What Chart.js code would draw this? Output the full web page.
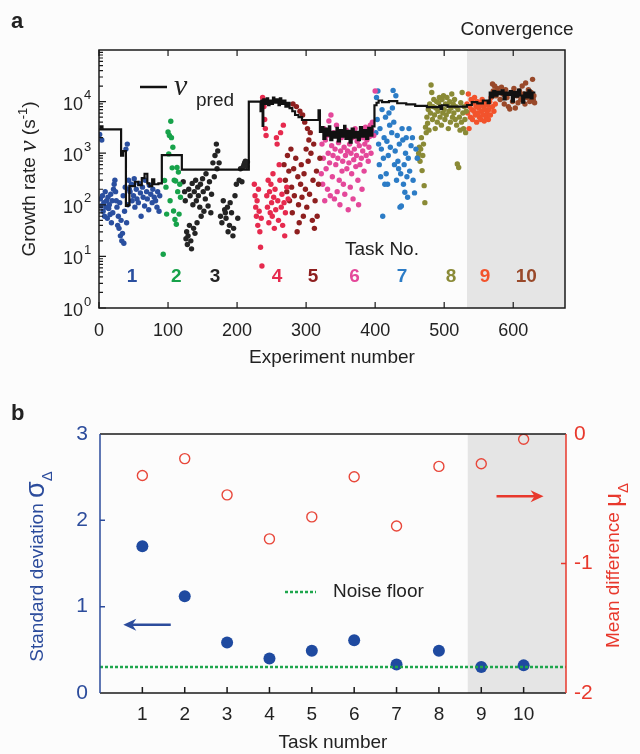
<!DOCTYPE html>
<html>
<head>
<meta charset="utf-8">
<script src="https://cdn.jsdelivr.net/npm/chart.js@4.4.0/dist/chart.umd.min.js"></script>
<style>
  html, body { margin: 0; padding: 0; background: #fcfcfc; }
  .wrap { position: relative; width: 640px; height: 754px; }
  #chartA { position: absolute; left: 0; top: 0; }
  #chartB { position: absolute; left: 0; top: 380px; }
</style>
</head>
<body>
<div class="wrap">
  <canvas id="chartA" width="640" height="380"></canvas>
  <canvas id="chartB" width="640" height="374"></canvas>
</div>
<script>
// ---------- panel a : growth rate per experiment ----------
const xTicksA = [0, 100, 200, 300, 400, 500, 600];
const convergenceStartA = 533;
const taskNames = ['1', '2', '3', '4', '5', '6', '7', '8', '9', '10'];
const taskColors = ['#2a4f9f', '#17a24a', '#242424', '#e62a4e', '#8e1f1f',
                    '#e4489a', '#2c7cc6', '#8a8a36', '#f2532c', '#99492a'];

// [experiment number, growth rate (1/s)]
const task1 = [[1,2300],[2,130],[3,95],[4,1800],[5,150],[6,75],[7,110],[8,60],[9,180],[10,90],
  [11,120],[12,55],[13,140],[14,85],[15,100],[16,65],[17,160],[18,45],[19,120],[20,70],
  [21,200],[22,250],[23,300],[24,180],[25,120],[26,90],[27,40],[28,60],[29,35],[30,110],
  [31,25],[32,50],[33,20],[34,28],[35,150],[36,18],[37,75],[38,220],[39,1200],[40,45],
  [41,1500],[42,100],[43,300],[44,200],[45,180],[47,250],[48,120],[50,150],[51,320],[52,90],
  [54,200],[55,130],[57,110],[58,260],[60,170],[61,60],[63,220],[64,140],[66,95],[67,300],
  [69,180],[70,130],[72,80],[73,240],[75,160],[77,110],[78,200],[80,140],[82,120],[84,90],
  [85,180],[87,75],[88,150]];
const task2 = [[93,11],[95,295],[97,220],[98,66],[100,2570],[101,970],[102,2200],[103,120],
  [104,4150],[105,2000],[106,520],[107,1300],[108,76],[109,300],[110,52],[111,290],
  [112,42],[113,530],[114,180],[115,430],[116,66],[117,250],[118,140]];
const task3 = [[122,280],[124,180],[125,120],[126,22],[127,30],[128,17],[129,25],[130,200],
  [131,40],[132,150],[133,20],[134,14],[135,260],[136,100],[137,35],[138,180],[139,28],
  [140,300],[141,120],[142,45],[143,220],[144,150],[146,90],[147,250],[148,60],[150,320],
  [151,180],[152,75],[154,130],[155,400],[157,210],[158,95],[160,280],[162,70],[163,160],
  [165,650],[167,350],[168,900],[170,1500],[171,500],[172,1100],[174,650],[176,60],
  [178,45],[180,120],[182,80],[183,70],[184,55],[186,90],[187,30],[189,40],[190,110],
  [192,70],[194,25],[195,35],[197,150],[199,250],[201,55],[203,300],[205,500],[207,280],
  [209,550],[210,600],[211,650],[212,700],[213,620],[214,560],[215,680]];
const task4 = [[225,250],[226,150],[227,90],[228,60],[229,120],[230,40],[231,200],[232,75],
  [233,30],[234,15],[235,55],[236,6.5],[237,12000],[238,9000],[239,8000],[240,4500],
  [241,3000],[242,2200],[243,150],[244,90],[245,300],[246,45],[247,180],[248,70],[249,250],
  [250,110],[251,60],[252,400],[253,140],[254,35],[255,200],[256,80],[257,2000],[258,1500],
  [259,120],[260,50],[261,600],[262,300],[263,2500],[264,90],[265,160],[266,40],[267,3500],
  [268,110],[269,25],[270,70],[272,220],[274,130]];
const task5 = [[268,600],[270,300],[272,180],[273,900],[275,450],[276,120],[278,1200],
  [279,220],[280,70],[281,9000],[282,500],[283,150],[285,800],[286,8000],[287,30],[288,350],
  [289,100],[290,45],[291,6500],[292,250],[293,600],[294,140],[295,5500],[296,60],[297,400],
  [298,4000],[299,200],[300,1200],[301,90],[302,3000],[303,700],[304,1800],[305,160],
  [306,2500],[307,1000],[309,50],[310,300],[311,1500],[312,35],[313,120],[315,450],
  [316,60],[318,250],[320,800]];
const task6 = [[322,400],[323,1500],[324,250],[325,800],[326,3000],[327,120],[328,1800],
  [329,500],[330,2200],[331,200],[332,1000],[333,4200],[334,650],[335,150],[336,5500],
  [337,1400],[338,350],[339,900],[340,2500],[341,130],[342,1200],[343,600],[344,3500],
  [345,180],[346,800],[347,1600],[348,300],[349,100],[350,1100],[351,2000],[352,450],
  [353,700],[354,250],[355,1300],[356,160],[357,900],[358,2800],[359,500],[360,1100],
  [361,80],[362,650],[363,1500],[364,220],[365,1000],[366,400],[367,2000],[368,130],
  [369,750],[370,1200],[371,3000],[372,550],[373,900],[374,1700],[375,300],[376,100],
  [377,1400],[378,600],[379,2400],[380,800],[381,200],[382,1100],[383,2000],[384,450],
  [385,1500],[386,3200],[387,900],[388,1800],[389,2600],[390,700],[391,1300],[392,2100],
  [393,3500],[394,1000],[395,2800],[396,4000],[398,2200],[400,16000]];
const task7 = [[401,2500],[402,12000],[403,4500],[404,16000],[405,1500],[406,600],[407,3000],
  [408,350],[409,1200],[410,7000],[411,60],[412,800],[413,2000],[414,250],[415,5000],
  [416,400],[417,1700],[418,250],[419,900],[420,6000],[421,3500],[422,1300],[424,2500],
  [425,7500],[426,16500],[427,4000],[428,600],[429,1100],[430,13000],[431,300],[432,2200],
  [433,700],[434,500],[435,1500],[436,90],[437,400],[438,95],[439,3000],[440,1800],
  [441,250],[442,600],[443,175],[444,1000],[445,2000],[446,350],[447,140],[448,800],
  [449,3000],[450,450],[452,1400],[454,2000],[455,300],[457,170],[459,1200],[461,800]];
const task8 = [[462,830],[463,1000],[464,1300],[465,700],[466,1200],[467,2000],[468,460],
  [469,900],[470,1500],[471,235],[472,110],[473,3200],[474,2500],[475,5000],[476,3800],
  [477,7000],[478,2800],[479,9000],[480,6000],[481,21000],[482,15000],[483,4500],[484,8000],
  [485,11000],[486,5500],[487,3000],[488,7500],[489,10000],[490,4000],[491,6500],[492,9500],
  [493,12000],[494,5000],[495,8000],[496,3500],[497,11000],[498,6000],[499,13000],[500,7000],
  [501,4500],[502,9000],[503,5500],[504,12000],[505,8500],[506,3000],[507,6500],[508,10000],
  [509,4000],[510,7500],[511,14000],[512,5000],[513,9000],[514,6000],[515,11000],[516,4500],
  [517,8000],[518,3500],[519,620],[520,7000],[521,530],[522,5000],[523,2800],[524,9500],
  [525,4000],[526,15000],[527,6000],[528,3000],[529,8000],[530,4500],[531,2500],[532,6500]];
const task9 = [[533,9000],[534,6000],[535,14000],[536,3000],[537,8000],[538,5000],[539,11000],
  [540,7000],[541,4500],[542,9500],[543,6500],[544,12000],[545,5500],[546,8000],[547,4000],
  [548,10000],[549,6000],[550,7500],[551,5000],[552,9000],[553,4500],[554,6500],[555,11000],
  [556,5500],[557,8000],[558,4200],[559,7000],[560,9500],[561,5000],[562,6000],[563,8500],
  [564,4500],[565,7000],[566,10000],[567,5500],[568,12000],[570,8000],[572,6500],[574,9000]];
const task10 = [[570,22000],[571,16000],[573,20000],[575,13000],[577,18000],[579,15000],
  [581,11000],[583,19000],[585,14000],[587,9000],[589,17000],[591,12000],[593,8000],
  [595,7200],[597,15000],[599,10000],[601,18000],[603,7500],[605,13000],[607,9500],
  [609,16000],[611,11000],[613,20000],[615,14000],[617,9000],[618,23000],[620,12000],
  [622,17000],[624,10000],[626,15000],[628,27000],[629,11000],[630,13000],[631,9500]];
const tasks = [task1, task2, task3, task4, task5, task6, task7, task8, task9, task10];

// predicted growth rate, [start of step, value]
const predLine = [[0,2900],[2,3300],[5,2900],[32,900],[35,1100],[39,95],[42,100],[44,230],
  [52,280],[57,240],[62,330],[66,400],[70,260],[73,230],[77,310],[80,250],[86,260],[91,920],
  [120,480],[217,10000],[234,6500],[235,10500],[237,3400],[238,11000],[241,9000],[243,11500],
  [245,8500],[247,10500],[250,9000],[252,12000],[254,9500],[257,11000],[260,8500],[262,11500],
  [264,9000],[267,10500],[270,8000],[273,9500],[276,7500],[280,6500],[284,5500],[289,5000],
  [294,4400],[318,6800],[320,2600],[323,3200],[325,1900],[328,3000],[330,2200],[333,3300],
  [335,1800],[338,2600],[341,2000],[344,3100],[346,1700],[349,2800],[352,2100],[355,3400],
  [357,1900],[360,2700],[363,1600],[366,3000],[369,2000],[372,2600],[375,1800],[378,3200],
  [381,2100],[384,2800],[387,1900],[390,3100],[393,2200],[396,3300],[399,8500],[402,9500],
  [405,10500],[410,9800],[420,10200],[432,9300],[445,8800],[458,8300],[475,7800],[493,8300],
  [495,7200],[497,8500],[505,8000],[533,8600],[540,9800],[548,9200],[556,10500],[563,9300],
  [566,15000],[568,12000],[571,16000],[574,13000],[577,15500],[580,14000],[583,16500],
  [586,11000],[589,15000],[592,13500],[595,16000],[598,10000],[601,15500],[604,12500],
  [607,17000],[610,13000],[613,9500],[616,15000],[619,12000],[622,16500],[625,11500],
  [628,15000],[632,15000]];

// ---------- panel b : error statistics per task ----------
const taskNumbers = [1, 2, 3, 4, 5, 6, 7, 8, 9, 10];
const sigmaDelta = [1.70, 1.12, 0.585, 0.40, 0.49, 0.61, 0.33, 0.49, 0.30, 0.32];
const muDelta = [-0.32, -0.19, -0.47, -0.81, -0.64, -0.33, -0.71, -0.25, -0.23, -0.04];
const noiseFloor = 0.3;
const convergenceStartB = 8.68;

const FONT = '"Liberation Sans", Arial, sans-serif';
const BLUE = '#2c4c9c';
const RED = '#e8382c';

// kleine Helfer
function rotatedText(ctx, cx, cy, parts) {
  // parts: [{t, size, italic, dy}]
  ctx.save();
  ctx.translate(cx, cy);
  ctx.rotate(-Math.PI / 2);
  let total = 0;
  parts.forEach(p => {
    ctx.font = `${p.italic ? 'italic ' : ''}${p.size}px ${p.family || FONT}`;
    p.w = ctx.measureText(p.t).width;
    total += p.w;
  });
  let x = -total / 2;
  ctx.textBaseline = 'middle';
  ctx.textAlign = 'left';
  parts.forEach(p => {
    ctx.font = `${p.italic ? 'italic ' : ''}${p.size}px ${p.family || FONT}`;
    ctx.fillText(p.t, x, p.dy || 0);
    x += p.w;
  });
  ctx.restore();
}

function arrow(ctx, x1, y1, x2, y2, color) {
  const dir = Math.sign(x2 - x1);
  ctx.save();
  ctx.strokeStyle = color;
  ctx.fillStyle = color;
  ctx.lineWidth = 2.5;
  ctx.beginPath();
  ctx.moveTo(x1, y1);
  ctx.lineTo(x2 - dir * 8, y2);
  ctx.stroke();
  ctx.beginPath();
  ctx.moveTo(x2, y2);
  ctx.lineTo(x2 - dir * 13, y2 - 6);
  ctx.lineTo(x2 - dir * 9, y2);
  ctx.lineTo(x2 - dir * 13, y2 + 6);
  ctx.closePath();
  ctx.fill();
  ctx.restore();
}

const decorA = {
  id: 'decorA',
  beforeDatasetsDraw(chart) {
    const {ctx, chartArea: a, scales: {x}} = chart;
    const gx = x.getPixelForValue(convergenceStartA);
    ctx.save();
    ctx.fillStyle = '#e5e5e5';
    ctx.fillRect(gx, a.top, a.right - gx, a.bottom - a.top);
    ctx.restore();
  },
  afterDraw(chart) {
    const {ctx, chartArea: a, scales: {x, y}} = chart;
    ctx.save();
    ctx.strokeStyle = '#1a1a1a';
    ctx.lineWidth = 1.5;
    ctx.strokeRect(a.left, a.top, a.right - a.left, a.bottom - a.top);

    // ticks nach innen
    ctx.lineWidth = 1.2;
    ctx.beginPath();
    xTicksA.forEach(v => {
      const px = x.getPixelForValue(v);
      ctx.moveTo(px, a.bottom); ctx.lineTo(px, a.bottom - 6);
      ctx.moveTo(px, a.top); ctx.lineTo(px, a.top + 6);
    });
    for (let d = 0; d < 5; d++) {
      for (let k = 1; k <= 9; k++) {
        const py = y.getPixelForValue(k * Math.pow(10, d));
        ctx.moveTo(a.left, py); ctx.lineTo(a.left + (k === 1 ? 7 : 4), py);
      }
    }
    ctx.stroke();

    // y tick labels 10^n
    ctx.fillStyle = '#222';
    for (let d = 0; d <= 4; d++) {
      const py = y.getPixelForValue(Math.pow(10, d));
      ctx.font = `18px ${FONT}`;
      ctx.textAlign = 'right';
      ctx.textBaseline = 'middle';
      ctx.fillText('10', 83, py + 3);
      ctx.font = `13px ${FONT}`;
      ctx.textAlign = 'left';
      ctx.fillText(String(d), 84, py - 6);
    }

    // axis title
    ctx.fillStyle = '#222';
    rotatedText(ctx, 30, (a.top + a.bottom) / 2, [
      {t: 'Growth rate ', size: 19},
      {t: 'ν', size: 26, italic: true, family: '"Liberation Serif", serif', dy: -1},
      {t: ' (s', size: 19},
      {t: '-1', size: 13, dy: -7},
      {t: ')', size: 19}
    ]);

    // legend
    ctx.strokeStyle = '#111';
    ctx.lineWidth = 2.5;
    ctx.beginPath();
    ctx.moveTo(140, 87); ctx.lineTo(167, 87);
    ctx.stroke();
    ctx.textAlign = 'left';
    ctx.textBaseline = 'alphabetic';
    ctx.font = `italic 30px "Liberation Serif", serif`;
    ctx.fillText('ν', 174, 95);
    ctx.font = `19px ${FONT}`;
    ctx.fillText('pred', 196, 106);

    // task labels
    const labelX = [48, 112, 168, 258, 310, 370, 439, 510, 559, 619];
    ctx.font = `bold 19px ${FONT}`;
    ctx.textAlign = 'center';
    ctx.textBaseline = 'middle';
    taskNames.forEach((t, i) => {
      ctx.fillStyle = taskColors[i];
      ctx.fillText(t, x.getPixelForValue(labelX[i]), 277);
    });
    ctx.fillStyle = '#222';
    ctx.font = `19px ${FONT}`;
    ctx.fillText('Task No.', 382, 250);

    ctx.fillText('Convergence', 517, 30);
    ctx.font = `bold 22px ${FONT}`;
    ctx.textAlign = 'left';
    ctx.fillText('a', 11, 22);
    ctx.restore();
  }
};

const datasetsA = [{
  type: 'line',
  data: predLine.map(([px, py]) => ({x: px, y: py})),
  stepped: 'before',
  borderColor: '#111',
  borderWidth: 2.2,
  pointRadius: 0,
  fill: false
}];
tasks.forEach((t, i) => {
  datasetsA.push({
    type: 'scatter',
    data: t.map(([px, py]) => ({x: px, y: py})),
    backgroundColor: taskColors[i],
    borderWidth: 0,
    pointRadius: 2.7
  });
});

new Chart(document.getElementById('chartA'), {
  data: {datasets: datasetsA},
  options: {
    responsive: false,
    animation: false,
    devicePixelRatio: 1,
    layout: {padding: {top: 50, right: 75, bottom: 0, left: 0}},
    plugins: {legend: {display: false}, tooltip: {enabled: false}},
    scales: {
      x: {
        type: 'linear', min: 0, max: 675,
        grid: {display: false, drawTicks: false},
        border: {display: false},
        ticks: {font: {family: FONT, size: 18}, color: '#222', padding: 12},
        afterBuildTicks: s => { s.ticks = xTicksA.map(v => ({value: v})); },
        afterFit: s => { s.height = 72; },
        title: {display: true, text: 'Experiment number', color: '#222',
                font: {family: FONT, size: 19}, padding: {top: 0, bottom: 11}}
      },
      y: {
        type: 'logarithmic', min: 1, max: 100000,
        grid: {display: false, drawTicks: false},
        border: {display: false},
        ticks: {display: false},
        afterFit: s => { s.width = 99; }
      }
    }
  },
  plugins: [decorA]
});

// ---------- panel b ----------
const decorB = {
  id: 'decorB',
  beforeDatasetsDraw(chart) {
    const {ctx, chartArea: a, scales: {x}} = chart;
    const gx = x.getPixelForValue(convergenceStartB);
    ctx.save();
    ctx.fillStyle = '#e5e5e5';
    ctx.fillRect(gx, a.top, a.right - gx, a.bottom - a.top);
    ctx.restore();
  },
  afterDraw(chart) {
    const {ctx, chartArea: a, scales: {x, y, y2}} = chart;
    ctx.save();
    ctx.lineWidth = 1.5;
    ctx.strokeStyle = '#1a1a1a';
    ctx.beginPath();
    ctx.moveTo(a.left, a.top); ctx.lineTo(a.right, a.top);
    ctx.moveTo(a.left, a.bottom); ctx.lineTo(a.right, a.bottom);
    taskNumbers.forEach(v => {
      const px = x.getPixelForValue(v);
      ctx.moveTo(px, a.bottom); ctx.lineTo(px, a.bottom - 6);
    });
    ctx.stroke();
    ctx.strokeStyle = BLUE;
    ctx.beginPath();
    ctx.moveTo(a.left, a.top); ctx.lineTo(a.left, a.bottom);
    [1, 2].forEach(v => {
      const py = y.getPixelForValue(v);
      ctx.moveTo(a.left, py); ctx.lineTo(a.left + 5, py);
    });
    ctx.stroke();
    ctx.strokeStyle = RED;
    ctx.beginPath();
    ctx.moveTo(a.right, a.top); ctx.lineTo(a.right, a.bottom);
    const pm = y2.getPixelForValue(-1);
    ctx.moveTo(a.right, pm); ctx.lineTo(a.right - 5, pm);
    ctx.stroke();

    // arrows
    arrow(ctx, x.getPixelForValue(1.67), y.getPixelForValue(0.79),
          x.getPixelForValue(0.55), y.getPixelForValue(0.79), BLUE);
    arrow(ctx, x.getPixelForValue(9.36), y.getPixelForValue(2.28),
          x.getPixelForValue(10.47), y.getPixelForValue(2.28), RED);

    // noise floor legend
    ctx.strokeStyle = '#1ea64c';
    ctx.lineWidth = 2.5;
    ctx.setLineDash([3, 2]);
    ctx.beginPath();
    ctx.moveTo(285, 212); ctx.lineTo(316, 212);
    ctx.stroke();
    ctx.setLineDash([]);
    ctx.fillStyle = '#222';
    ctx.font = `19px ${FONT}`;
    ctx.textAlign = 'left';
    ctx.textBaseline = 'middle';
    ctx.fillText('Noise floor', 333, 212);

    // axis titles
    ctx.fillStyle = BLUE;
    rotatedText(ctx, 38, (a.top + a.bottom) / 2 + 3, [
      {t: 'Standard deviation ', size: 19},
      {t: 'σ', size: 27, dy: -1},
      {t: 'Δ', size: 15, dy: 10}
    ]);
    ctx.fillStyle = RED;
    rotatedText(ctx, 614, (a.top + a.bottom) / 2 + 2, [
      {t: 'Mean difference ', size: 19},
      {t: 'μ', size: 24, dy: 0},
      {t: 'Δ', size: 15, dy: 10}
    ]);

    ctx.fillStyle = '#222';
    ctx.font = `bold 22px ${FONT}`;
    ctx.textAlign = 'left';
    ctx.fillText('b', 11, 34);
    ctx.restore();
  }
};

new Chart(document.getElementById('chartB'), {
  data: {
    datasets: [{
      type: 'line',
      data: [{x: 0, y: noiseFloor}, {x: 11, y: noiseFloor}],
      borderColor: '#1ea64c',
      borderWidth: 2.5,
      borderDash: [3, 2],
      pointRadius: 0,
      yAxisID: 'y'
    }, {
      type: 'scatter',
      data: taskNumbers.map((t, i) => ({x: t, y: sigmaDelta[i]})),
      backgroundColor: '#1f4aa0',
      borderWidth: 0,
      pointRadius: 6,
      yAxisID: 'y'
    }, {
      type: 'scatter',
      data: taskNumbers.map((t, i) => ({x: t, y: muDelta[i]})),
      backgroundColor: 'rgba(0,0,0,0)',
      borderColor: '#e8473a',
      borderWidth: 1.4,
      pointRadius: 5,
      yAxisID: 'y2'
    }]
  },
  options: {
    responsive: false,
    animation: false,
    devicePixelRatio: 1,
    layout: {padding: {top: 54, right: 0, bottom: 0, left: 0}},
    plugins: {legend: {display: false}, tooltip: {enabled: false}},
    scales: {
      x: {
        type: 'linear', min: 0, max: 11,
        grid: {display: false, drawTicks: false},
        border: {display: false},
        ticks: {font: {family: FONT, size: 19}, color: '#222', padding: 10},
        afterBuildTicks: s => { s.ticks = taskNumbers.map(v => ({value: v})); },
        afterFit: s => { s.height = 61; },
        title: {display: true, text: 'Task number', color: '#222',
                font: {family: FONT, size: 19}, padding: {top: 0, bottom: 0}}
      },
      y: {
        type: 'linear', position: 'left', min: 0, max: 3,
        grid: {display: false, drawTicks: false},
        border: {display: false},
        ticks: {stepSize: 1, font: {family: FONT, size: 21}, color: BLUE, padding: 12},
        afterFit: s => { s.width = 100; }
      },
      y2: {
        type: 'linear', position: 'right', min: -2, max: 0,
        grid: {display: false, drawTicks: false},
        border: {display: false},
        ticks: {stepSize: 1, font: {family: FONT, size: 21}, color: RED, padding: 8},
        afterFit: s => { s.width = 74; }
      }
    }
  },
  plugins: [decorB]
});
</script>
</body>
</html>
